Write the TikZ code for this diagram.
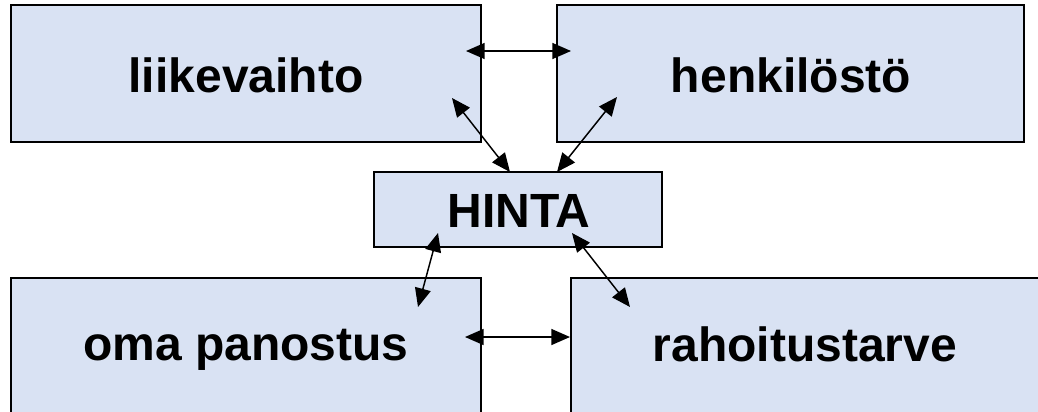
\documentclass[tikz,border=0pt]{standalone}
\usepackage{fontspec}
\setmainfont{Liberation Sans}
\usetikzlibrary{arrows.meta}
\definecolor{boxblue}{HTML}{D9E2F3}
\begin{document}
\begin{tikzpicture}[x=0.75pt,y=-0.75pt,
  box/.style={draw=black, line width=1.2pt, fill=boxblue, inner sep=0pt},
  lbl/.style={anchor=base, inner sep=0pt, font=\fontsize{36}{40}\selectfont\bfseries},
  link/.style={line width=1.1pt,
    {Triangle[length=14pt,width=12pt]}-{Triangle[length=14pt,width=12pt]}}]
\useasboundingbox (0,0) rectangle (1038,411);
\clip (0,0) rectangle (1038,411);

% boxes
\node[box, minimum width=352.5pt, minimum height=102.75pt] (lv) at (246,73.5) {};
\node[box, minimum width=350.25pt, minimum height=102.75pt] (hk) at (790.5,73.5) {};
\node[box, minimum width=216pt, minimum height=56.25pt] (hi) at (518,209.5) {};
\node[box, minimum width=352.5pt, minimum height=129pt] (op) at (246,364) {};
\node[box, minimum width=366.75pt, minimum height=129pt] (rt) at (815.5,364) {};

% labels
\node[lbl] (lvt) at (246,92) {liikevaihto};
\node[lbl] (hkt) at (791,92) {henkilöstö};
\node[lbl] (hit) at (519,227) {HINTA};
\node[lbl] (opt) at (246,360) {oma panostus};
\node[lbl] (rtt) at (805,361) {rahoitustarve};

% arrow end points
\coordinate (lv-hk) at (466,51);
\coordinate (hk-lv) at (571,51);
\coordinate (lv-hi) at (452,98);
\coordinate (hi-lv) at (510,172);
\coordinate (hk-hi) at (617,97);
\coordinate (hi-hk) at (557,172);
\coordinate (hi-op) at (438,233);
\coordinate (op-hi) at (418,307);
\coordinate (hi-rt) at (572,233);
\coordinate (rt-hi) at (630,307);
\coordinate (op-rt) at (465,337);
\coordinate (rt-op) at (570,337);

% connectors
\draw[link] (lv-hk) -- (hk-lv);
\draw[link] (lv-hi) -- (hi-lv);
\draw[link] (hk-hi) -- (hi-hk);
\draw[link] (hi-op) -- (op-hi);
\draw[link] (hi-rt) -- (rt-hi);
\draw[link] (op-rt) -- (rt-op);
\end{tikzpicture}
\end{document}
